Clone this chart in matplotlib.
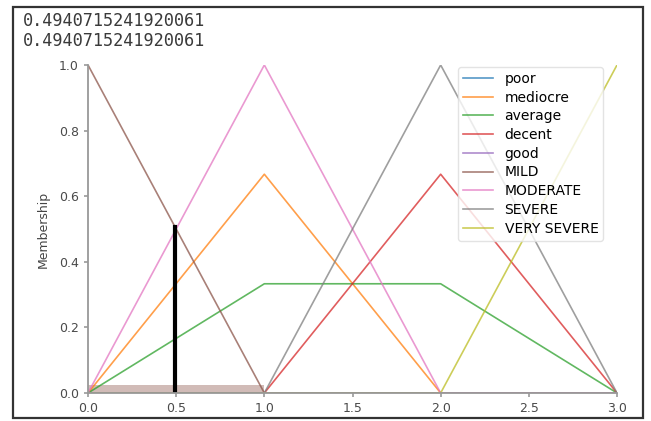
import matplotlib
matplotlib.use('Agg')
import matplotlib.pyplot as plt
from matplotlib.patches import Rectangle

# universe and membership values
x = [0, 1, 2, 3]
labels = ['poor', 'mediocre', 'average', 'decent', 'good',
          'MILD', 'MODERATE', 'SEVERE', 'VERY SEVERE']
poor = [0, 0, 0, 0]
mediocre = [0, 0.667, 0, 0]
average = [0, 0.333, 0.333, 0]
decent = [0, 0, 0.667, 0]
good = [0, 0, 0, 0]
mild = [1, 0, 0, 0]
moderate = [0, 1, 0, 0]
severe = [0, 0, 1, 0]
very_severe = [0, 0, 0, 1]
series = [poor, mediocre, average, decent, good, mild, moderate, severe, very_severe]

input_value = 0.4940715241920061
input_membership = 1 - input_value
fill_x = [0, 1]
fill_level = 0.025

fig = plt.figure(figsize=(6.51, 4.21), dpi=100)
fig.patches.append(Rectangle((13 / 651, 1 - 418 / 421), 630 / 651, 411 / 421,
                             transform=fig.transFigure, fill=False,
                             edgecolor='#333333', lw=1.6))

for k in range(2):
    fig.text(23 / 651, 1 - (21 + 20 * k) / 421, str(input_value),
             family='DejaVu Sans Mono', fontsize=12.2, color='#3a3a3a',
             va='center', ha='left')

ax = fig.add_axes([88 / 651, 1 - 393 / 421, 529 / 651, 328 / 421])
for i, (name, vals) in enumerate(zip(labels, series)):
    ax.plot(x, vals, color='C%d' % i, lw=1.2, alpha=0.75, label=name)

ax.fill_between(fill_x, 0, fill_level, color='C5', alpha=0.4, lw=0)
ax.plot([input_value, input_value], [0, input_membership], color='k', lw=3)

ax.set_xlim(0, 3)
ax.set_ylim(0, 1)
ax.set_xticks([0, 0.5, 1, 1.5, 2, 2.5, 3])
ax.set_yticks([0, 0.2, 0.4, 0.6, 0.8, 1.0])
ax.spines['top'].set_visible(False)
ax.spines['right'].set_visible(False)
for s in ['left', 'bottom']:
    ax.spines[s].set_color('#999999')
    ax.spines[s].set_linewidth(1.3)
ax.tick_params(labelsize=9, colors='#999999', length=3, width=1.2,
               labelcolor='#4a4a4a')
ax.set_ylabel('Membership', fontsize=9, color='#444444', labelpad=7)

ax.legend(loc='upper left', bbox_to_anchor=(458 / 651, 1 - 67 / 421),
          bbox_transform=fig.transFigure, fontsize=10, framealpha=0.8,
          borderpad=0.35, labelspacing=0.34, handlelength=2.2,
          borderaxespad=0, edgecolor='#dddddd')

fig.savefig('out.png', dpi=100, facecolor='white')
